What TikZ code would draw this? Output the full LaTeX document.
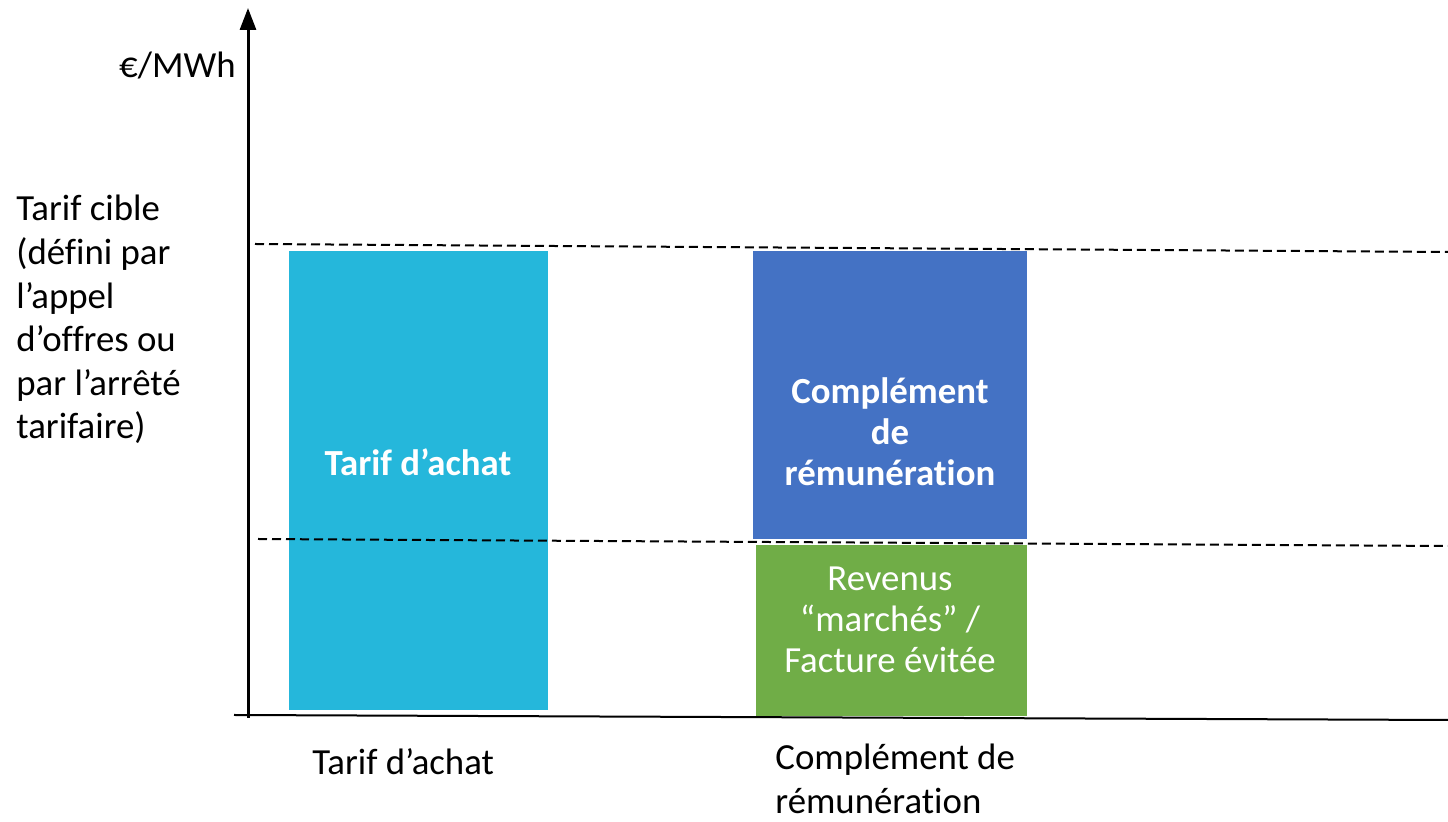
\documentclass[tikz,border=0pt]{standalone}
\usepackage{fontspec}
\setmainfont{Carlito}[Ligatures=NoCommon]
\usetikzlibrary{arrows.meta}
\definecolor{achatblue}{HTML}{25B7DB}
\definecolor{complblue}{HTML}{4472C4}
\definecolor{marchegreen}{HTML}{70AD47}
\tikzset{
  lbl/.style={font=\fontsize{18.4}{21.8}\selectfont, inner sep=0pt},
  barlbl/.style={lbl, text=white, align=center},
  level/.style={dashed, line width=1pt, dash pattern=on 4.5pt off 2.5pt}
}
\begin{document}
\begin{tikzpicture}[x=0.5pt,y=-0.5pt]
    \useasboundingbox (0,0) rectangle (1448,822);
    % bars
    \fill[achatblue] (289,251) rectangle (548,710);
    \fill[complblue] (753,251) rectangle (1027,539);
    \fill[marchegreen] (756,545) rectangle (1027,716);
    
    % dashed levels
    \draw[level] (255,244) -- (1448,252);
    \draw[level] (258,539) -- (1448,546);
    
    % axes
    \coordinate (xstart) at (234,715);
    \coordinate (xend) at (1448,720);
    \coordinate (ystart) at (248,718);
    \coordinate (yend) at (248,8);
    \draw[line width=1pt] (xstart) -- (xend);
    \draw[line width=1.5pt, -{Triangle[width=8pt,length=11pt]}] (ystart) -- (yend);
    
    % labels
    \node[lbl, anchor=base east] (unit) at (236,78) {€/MWh};
    \node[lbl, anchor=north west, align=left] (cible) at (16,195)
        {Tarif cible\\(défini par\\l’appel\\d’offres ou\\par l’arrêté\\tarifaire)};
    \node[barlbl, font=\fontsize{18.4}{21.8}\selectfont\bfseries] (achatin) at (418,462) {Tarif d’achat};
    \node[barlbl, font=\fontsize{18.4}{20.5}\selectfont\bfseries] (complin) at (890,432) {Complément\\de\\rémunération};
    \node[barlbl, font=\fontsize{18.4}{20.5}\selectfont] (marchein) at (890,620) {Revenus\\“marchés” /\\Facture évitée};
    \node[lbl, anchor=base west] (achatx) at (312,775) {Tarif d’achat};
    \node[lbl, anchor=north west, align=left] (complx) at (775,744) {Complément de\\rémunération};
\end{tikzpicture}
\end{document}
